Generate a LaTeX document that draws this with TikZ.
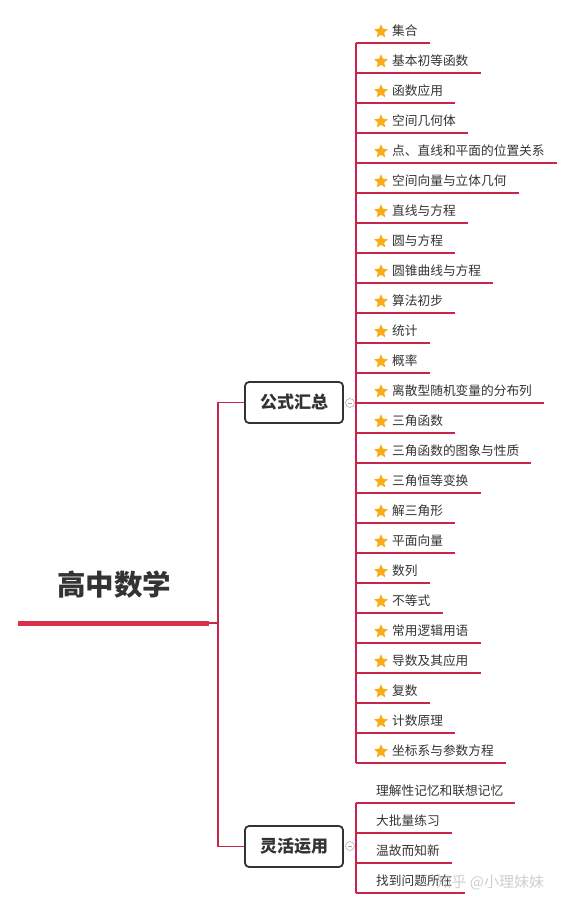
\documentclass[tikz,border=0pt]{standalone}
\usepackage{fontspec}
\setmainfont{Noto Sans CJK SC}
\usepackage{xcolor}
\usetikzlibrary{shapes.geometric, positioning, calc}

\definecolor{branchred}{RGB}{200,38,72}
\definecolor{rootred}{RGB}{216,48,72}
\definecolor{ink}{RGB}{51,51,51}
\definecolor{staryellow}{RGB}{250,172,24}

\tikzset{
  topic/.style={draw=ink, line width=1.8pt, rounded corners=4pt, fill=white,
    minimum width=98pt, minimum height=41pt, inner sep=0pt, text=ink,
    font=\fontsize{17pt}{20pt}\selectfont\bfseries},
  item/.style={anchor=west, inner xsep=12pt, inner ysep=6.5pt, text height=11pt,
    text depth=1pt, text=ink, font=\fontsize{12.7pt}{15pt}\selectfont},
  branch/.style={draw=branchred, line width=1.8pt},
  starmark/.style={star, star points=5, star point ratio=2.3, minimum size=15pt,
    inner sep=0pt, fill=staryellow, rounded corners=0.7pt},
  fold/.style={circle, draw=gray!60, fill=white, line width=0.6pt, minimum size=9pt,
    inner sep=0pt, path picture={\draw[gray!70, line width=0.6pt]
      ($(path picture bounding box.center)+(-2pt,0)$) -- ($(path picture bounding box.center)+(2pt,0)$);}}
}

\begin{document}
\begin{tikzpicture}[x=1pt, y=-1pt]
\useasboundingbox (0,0) rectangle (577,908);

% root
\node[text=ink, font=\fontsize{28.5pt}{32pt}\selectfont\bfseries] (root) at (114,585) {高中数学};
\coordinate (rootL) at (18,623);
\coordinate (rootR) at (209,623);
\coordinate (trunk) at (218,0);
\draw[draw=rootred, line width=5pt] (rootL) -- (rootR);
\draw[branch] (rootR) -- (rootR -| trunk);

% main topics
\node[topic] (b1) at (294,402.5) {公式汇总};
\node[topic] (b2) at (294,846.5) {灵活运用};
\draw[branch] (b1.west) -- (b1.west -| trunk) -- (b2.west -| trunk) -- (b2.west);

\node[fold] (c1) at (350,403) {};
\node[fold] (c2) at (350,846) {};
\coordinate (bus1) at (356,0);
\coordinate (bus2) at (356,0);

% first group
\foreach \t [count=\i, evaluate=\i as \y using 30+30*(\i-1)] in {集合, 基本初等函数, 函数应用, 空间几何体,
    点、直线和平面的位置关系, 空间向量与立体几何, 直线与方程, 圆与方程, 圆锥曲线与方程, 算法初步,
    统计, 概率, 离散型随机变量的分布列, 三角函数, 三角函数的图象与性质, 三角恒等变换, 解三角形,
    平面向量, 数列, 不等式, 常用逻辑用语, 导数及其应用, 复数, 计数原理, 坐标系与参数方程}{
  \node[item] (t\i) at (380,\y) {\t};
  \node[starmark] (s\i) at (381,\y+1.5) {};
  \draw[branch] (t\i.south -| bus1) -- (t\i.south east);
}
\draw[branch] (t1.south -| bus1) -- (t25.south -| bus1);
\draw[branch] (c1.east) -- (c1 -| bus1);

% second group
\foreach \t [count=\i, evaluate=\i as \y using 790+30*(\i-1)] in {理解性记忆和联想记忆, 大批量练习, 温故而知新, 找到问题所在}{
  \node[item] (u\i) at (364,\y) {\t};
  \draw[branch] (u\i.south -| bus2) -- (u\i.south east);
}
\draw[branch] (u1.south -| bus2) -- (u4.south -| bus2);
\draw[branch] (c2.east) -- (c2 -| bus2);

% watermark
\node[text=gray!50, opacity=0.75, anchor=west, font=\fontsize{15pt}{18pt}\selectfont] (mark) at (433,882) {知乎 @小理妹妹};
\end{tikzpicture}
\end{document}
